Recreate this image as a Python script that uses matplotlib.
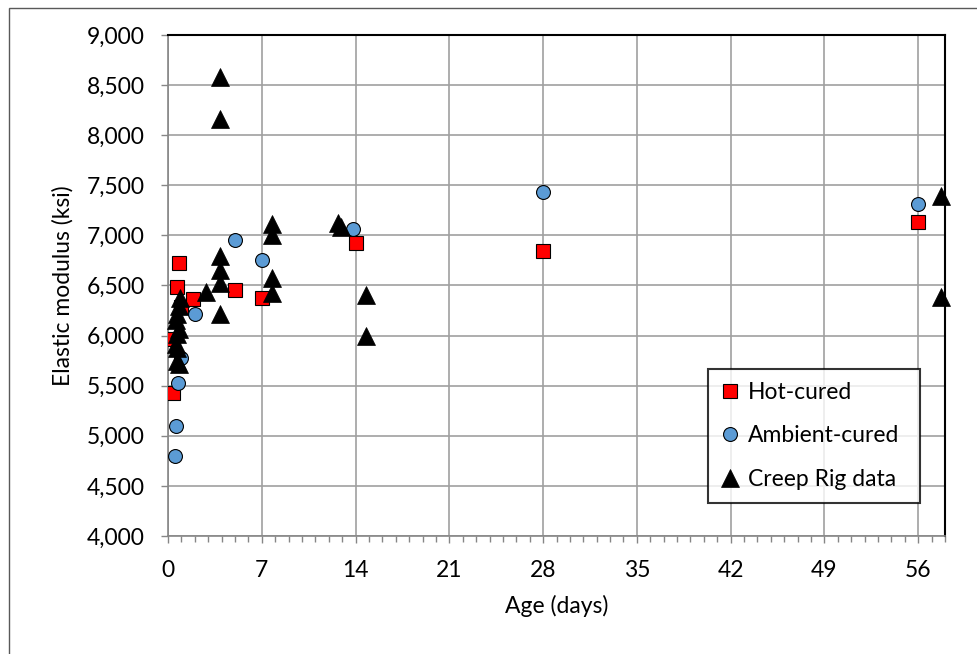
import matplotlib
matplotlib.use("Agg")
import matplotlib.pyplot as plt
from matplotlib.ticker import MultipleLocator, FuncFormatter
from matplotlib.patches import Rectangle

plt.rcParams['font.family'] = ['Lato', 'DejaVu Sans']

# Data
hot_x = [0.4, 0.4, 0.65, 0.8, 1.0, 1.9, 5.0, 7.0, 14.0, 28.0, 56.0]
hot_y = [5430, 5970, 6490, 6720, 6290, 6370, 6460, 6380, 6920, 6840, 7130]

amb_x = [0.5, 0.6, 0.75, 1.0, 2.0, 5.0, 7.0, 13.8, 28.0, 56.0]
amb_y = [4800, 5100, 5530, 5780, 6220, 6950, 6750, 7060, 7430, 7310]

creep_x = [0.9, 0.8, 0.7, 0.6, 0.8, 0.7, 0.6, 0.7, 0.7, 0.8,
           2.8,
           3.9, 3.9, 3.9, 3.9, 3.9, 3.9,
           7.8, 7.8, 7.8, 7.8,
           12.7, 12.9,
           14.8, 14.8,
           57.7, 57.7]
creep_y = [6380, 6300, 6220, 6160, 6070, 6020, 5920, 5880, 5750, 5720,
           6440,
           8580, 8160, 6790, 6650, 6520, 6220,
           7110, 7000, 6570, 6430,
           7120, 7080,
           6410, 6000,
           7390, 6390]

x_ticks = [0, 7, 14, 21, 28, 35, 42, 49, 56]
y_ticks = [4000, 4500, 5000, 5500, 6000, 6500, 7000, 7500, 8000, 8500, 9000]

W, H = 977, 654
fig = plt.figure(figsize=(W / 100, H / 100), dpi=100)
fig.patch.set_facecolor('white')

# outer chart frame
fig.patches.append(Rectangle((9 / W, -0.05), 1.2, 1 - 8 / H + 0.05,
                             transform=fig.transFigure, fill=False,
                             edgecolor='#595959', linewidth=1.0))

left, right, top, bottom = 168, 945, 35, 536
ax = fig.add_axes([left / W, 1 - bottom / H, (right - left) / W, (bottom - top) / H])

ax.set_xlim(0, 58)
ax.set_ylim(4000, 9000)
ax.set_xticks(x_ticks)
ax.set_yticks(y_ticks)
ax.xaxis.set_minor_locator(MultipleLocator(1))
ax.yaxis.set_major_formatter(FuncFormatter(lambda v, p: f"{int(v):,}"))

ax.grid(True, which='major', color='#a0a0a0', linewidth=1.2)
ax.set_axisbelow(True)

for s in ['left', 'bottom']:
    ax.spines[s].set_color('#868686')
    ax.spines[s].set_linewidth(1.2)
for s in ['top', 'right']:
    ax.spines[s].set_color('black')
    ax.spines[s].set_linewidth(1.5)

fs = 16.5
ax.tick_params(axis='both', which='major', direction='out', length=5,
               width=1, color='#868686', labelsize=fs, pad=12)
ax.tick_params(axis='x', which='minor', direction='out', length=4,
               width=1, color='#868686')
ax.tick_params(axis='y', which='minor', left=False)

ax.plot(hot_x, hot_y, linestyle='none', marker='s', markersize=9.5,
        markerfacecolor='#ff0000', markeredgecolor='black', markeredgewidth=0.8,
        label='Hot-cured', zorder=3)
ax.plot(amb_x, amb_y, linestyle='none', marker='o', markersize=10,
        markerfacecolor='#5b9bd5', markeredgecolor='black', markeredgewidth=0.8,
        label='Ambient-cured', zorder=3)
ax.plot(creep_x, creep_y, linestyle='none', marker='^', markersize=12.5,
        markerfacecolor='black', markeredgecolor='black', markeredgewidth=0.5,
        label='Creep Rig data', zorder=4, clip_on=False)

ax.set_xlabel('Age (days)', fontsize=fs, labelpad=10)
ax.set_ylabel('Elastic modulus (ksi)', fontsize=fs, labelpad=9)

leg = ax.legend(loc='lower left', bbox_to_anchor=((708 - left) / (right - left),
                (bottom - 503) / (bottom - top),
                (920 - 708) / (right - left), (503 - 370) / (bottom - top)),
                mode='expand', fontsize=fs, frameon=True, fancybox=False,
                edgecolor='black', handlelength=0.8, handletextpad=0.4,
                borderpad=0.55, labelspacing=1.0, borderaxespad=0, markerscale=1.0)
leg.get_frame().set_linewidth(1.5)

fig.savefig('out.png', dpi=100, facecolor='white')
